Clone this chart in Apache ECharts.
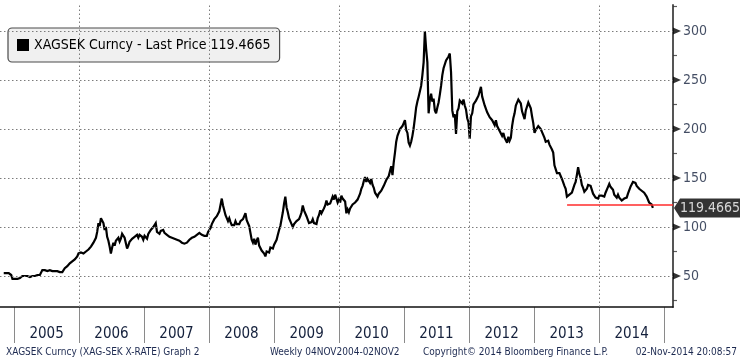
<!DOCTYPE html>
<html><head><meta charset="utf-8">
<script src="https://cdn.jsdelivr.net/npm/echarts@6/dist/echarts.min.js"></script>
<style>html,body{margin:0;padding:0;background:#fff}#c{width:745px;height:362px}</style>
</head><body><div id="c"></div>
<script>
// ---- data ----
const startDate = [2004, 10, 4];           // first weekly bar: 04 Nov 2004
const closes = [
53,54,53,52,53,53,51,47,46,47,
46,47,48,48,49,50,49,50,49,50,
50,49,50,50,51,50,50,51,50,51,
51,56,55,56,56,55,56,56,56,55,
56,55,55,55,55,54,53,54,56,58,
59,60,61,63,62,65,66,67,68,70,
73,71,74,72,73,75,75,76,77,79,
80,82,84,86,89,95,104,101,109,111,
104,97,100,90,86,80,73,79,84,81,
86,84,89,85,88,93,95,89,87,78,
81,85,83,88,86,90,88,92,89,92,
93,90,87,91,89,88,93,94,97,95,
100,98,104,95,97,93,96,94,97,94,
95,92,93,90,92,89,91,88,90,87,
89,86,87,84,86,83,82,84,85,87,
86,89,87,90,89,92,91,94,95,92,
94,91,93,91,95,97,99,103,105,108,
107,111,110,116,118,129,122,121,112,109,
106,109,105,102,104,102,106,103,105,103,
106,104,108,110,114,107,105,101,100,87,
84,88,82,86,89,81,79,76,77,73,
70,75,77,74,79,80,78,82,83,87,
92,97,101,108,115,124,131,120,115,109,
110,103,100,103,102,106,104,108,111,115,
122,117,116,111,109,104,102,105,108,104,
105,103,109,112,117,114,115,119,122,127,
123,121,124,126,131,128,133,131,125,128,
125,132,129,131,126,114,118,115,119,120,
123,121,125,124,128,131,134,139,142,147,
151,146,149,150,145,149,143,140,135,134,
131,134,133,137,139,142,144,148,147,152,
157,162,153,166,176,187,193,195,200,199,
203,206,209,199,196,186,183,187,193,201,
211,222,228,233,231,244,255,268,300,282,
268,216,230,236,228,231,219,216,222,227,
235,244,255,262,262,270,272,274,277,258,
219,212,215,195,218,221,229,231,226,230,
224,220,211,207,190,213,216,225,227,229,
228,234,235,243,233,231,224,223,217,218,
212,214,209,211,204,209,203,204,198,197,
193,196,191,190,186,192,188,191,203,211,
216,224,226,230,228,226,218,216,210,219,
223,227,225,221,213,206,196,199,199,203,
204,200,201,194,191,187,186,188,184,186,
179,176,163,161,155,157,155,153,149,147,
142,139,131,131,133,132,135,137,143,146,
153,161,154,150,143,140,136,137,139,143,
145,142,140,134,133,130,130,129,132,131,
132,134,131,135,136,141,144,141,139,138,
133,133,130,133,130,130,127,129,129,131,
130,134,136,141,143,146,145,145,142,141,
139,140,137,138,135,134,131,130,125,126,123,119.4665
];
const lastPrice = 119.4665;
const supportLevel = 123;
const supportStart = '2013-07-05';
const yTicks = [50, 100, 150, 200, 250, 300];
const yMinorTicks = [25, 75, 125, 175, 225, 275, 325];
const yearLabels = ['2005','2006','2007','2008','2009','2010','2011','2012','2013','2014'];
const yearBounds = ['2005-01-01','2006-01-01','2007-01-01','2008-01-01','2009-01-01','2010-01-01','2011-01-01','2012-01-01','2013-01-01','2014-01-01','2015-01-01'];
const gridYears = ['2006-01-01','2008-01-01','2010-01-01','2012-01-01','2014-01-01'];
const ticker = 'XAGSEK Curncy';
const footerLeft = 'XAGSEK Curncy (XAG-SEK X-RATE) Graph 2';
const footerMid = 'Weekly 04NOV2004-02NOV2';
const footerCopy = 'Copyright\u00A9 2014 Bloomberg Finance L.P.';
const footerDate = '02-Nov-2014 20:08:57';

// ---- helpers ----
const ts = s => { const p = s.split('-').map(Number); return new Date(p[0], p[1]-1, p[2]).getTime(); };
const t0 = new Date(startDate[0], startDate[1], startDate[2]).getTime();
const WEEK = 7*86400000;
const series = closes.map((v, i) => [t0 + i*WEEK, v]);
const xMin = ts('2004-10-14'), xMax = ts('2015-02-20');
const yMin = 18.37, yMax = 326.53;
const FONT = "'DejaVu Sans Condensed','Liberation Sans',sans-serif";
const NAVY = '#14203c';
const seriesName = ticker + ' - Last Price ' + lastPrice;

const chart = echarts.init(document.getElementById('c'), null, {renderer: 'canvas'});
const dotted = {color: '#7c7c7c', width: 1, type: [1.5, 2.5]};
const option = {
  animation: false,
  backgroundColor: '#fff',
  grid: {left: 0, right: 72, top: 5, bottom: 55, containLabel: false},
  legend: {
    data: [seriesName], left: 8, top: 28, icon: 'rect', itemWidth: 12, itemHeight: 12,
    backgroundColor: '#f0f0f0', borderColor: '#4a4a4a', borderWidth: 1.2, borderRadius: 4,
    padding: [10, 9, 10, 9], selectedMode: false,
    textStyle: {fontSize: 14, color: '#000', fontFamily: FONT}
  },
  xAxis: {type: 'time', min: xMin, max: xMax,
    axisLine: {show: true, lineStyle: {color: '#111', width: 1.5}},
    axisTick: {show: false}, axisLabel: {show: false}, splitLine: {show: false}},
  yAxis: {type: 'value', position: 'right', min: yMin, max: yMax,
    axisLine: {show: true, lineStyle: {color: '#555', width: 2}},
    axisTick: {show: false}, axisLabel: {show: false}, splitLine: {show: false}},
  series: [
    {type: 'line', name: 'grid', data: series, silent: true, z: 1, symbol: 'none',
     lineStyle: {opacity: 0},
     markLine: {silent: true, symbol: 'none', label: {show: false}, lineStyle: dotted,
       data: yTicks.map(v => ({yAxis: v})).concat(gridYears.map(d => ({xAxis: ts(d)})))}},
    {type: 'line', name: seriesName, data: series, symbol: 'none', showSymbol: false, z: 3,
     itemStyle: {color: '#000'}, lineStyle: {color: '#000', width: 2.2, join: 'miter', miterLimit: 3},
     markLine: {silent: true, symbol: 'none', label: {show: false},
       lineStyle: {color: '#ff2b2b', width: 1.5, type: 'solid'},
       data: [[{coord: [ts(supportStart), supportLevel]}, {coord: [xMax, supportLevel]}]]}},
    {type: 'scatter', name: 'ticks', data: yTicks.map(v => [xMax, v]), clip: false, z: 5, silent: true,
     symbol: 'path://M0,0L10,5L0,10Z', symbolSize: [8, 7], symbolOffset: [4, 0],
     itemStyle: {color: '#000'},
     label: {show: true, position: 'right', distance: 2, formatter: p => String(p.value[1]),
       fontSize: 14, color: NAVY, fontFamily: FONT}},
    {type: 'scatter', name: 'minor', data: yMinorTicks.map(v => [xMax, v]), clip: false, z: 5, silent: true,
     symbol: 'rect', symbolSize: [4, 1.2], symbolOffset: [2, 0], itemStyle: {color: '#333'}},
    {type: 'scatter', name: 'last', data: [[xMax, lastPrice]], clip: false, z: 6, silent: true,
     symbol: 'path://M0,9L6,0L66,0L66,18L6,18Z', symbolSize: [66, 19], symbolOffset: [34, 0],
     itemStyle: {color: '#000'},
     label: {show: true, position: 'inside', offset: [3, 0], formatter: () => lastPrice.toFixed(4),
       fontSize: 14, color: '#fff', fontFamily: FONT}}
  ]
};
chart.setOption(option);

// bottom band (year separators + labels) and footer, positioned through the axis scale
const px = t => chart.convertToPixel({xAxisIndex: 0}, t);
const yBottom = chart.convertToPixel({yAxisIndex: 0}, yMin);
const g = [];
yearBounds.forEach(d => {
  const x = Math.round(px(ts(d))) + 0.5;
  g.push({type: 'line', silent: true, shape: {x1: x, y1: yBottom, x2: x, y2: yBottom + 36},
          style: {stroke: '#8a8a8a', lineWidth: 1}});
});
yearLabels.forEach((lab, k) => {
  const xc = (px(ts(yearBounds[k])) + px(ts(yearBounds[k+1]))) / 2;
  g.push({type: 'text', silent: true, x: xc, y: yBottom + 27,
    style: {text: lab, fill: NAVY, font: '15px ' + FONT, textAlign: 'center', textVerticalAlign: 'middle', align: 'center', verticalAlign: 'middle'}});
});
const foot = (text, x, align) => ({type: 'text', silent: true, x: x, y: 352,
  style: {text: text, fill: '#1c2950', font: '10px ' + FONT, textAlign: align, textVerticalAlign: 'middle', align: align, verticalAlign: 'middle'}});
g.push(foot(footerLeft, 6, 'left'));
g.push(foot(footerMid, 270, 'left'));
g.push(foot(footerCopy, 423, 'left'));
g.push(foot(footerDate, 737, 'right'));
chart.setOption({graphic: g});
</script>
</body></html>
